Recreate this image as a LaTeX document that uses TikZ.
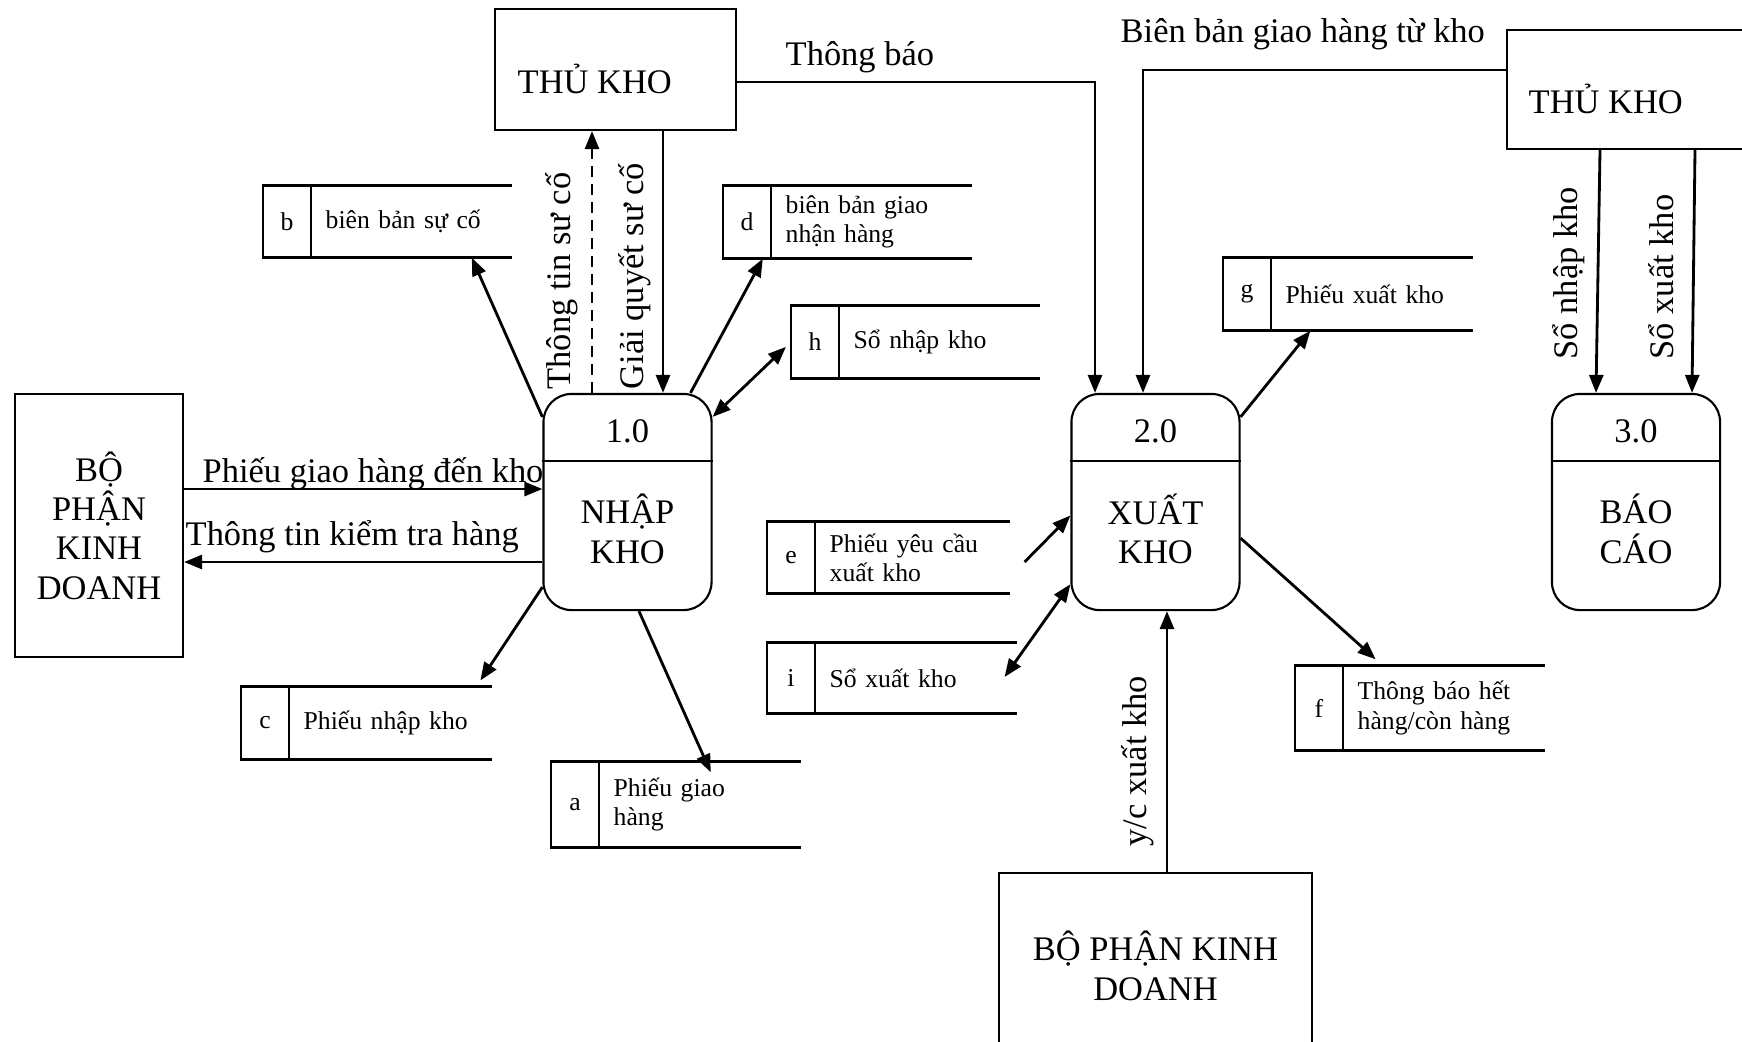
\documentclass[tikz,border=0pt]{standalone}
\usepackage{fontspec}
\setmainfont{Liberation Serif}
\usetikzlibrary{arrows.meta,calc,positioning}
\newcommand\bigtxt{\fontsize{9.8pt}{11.2pt}\selectfont}
\newcommand\smalltxt{\fontsize{7.3pt}{8.3pt}\selectfont}
\begin{document}
\begin{tikzpicture}[x=0.01cm,y=-0.01cm,
  box/.style={draw,line width=0.6pt,inner sep=0},
  process/.style={draw,line width=0.6pt,rounded corners=0.28cm,
    minimum width=1.68cm,minimum height=2.16cm,inner sep=0},
  lbl/.style={font=\bigtxt,inner sep=0},
  lbls/.style={font=\bigtxt,inner sep=0,align=center},
  storebox/.style={minimum width=2.47cm,inner sep=0},
  storeid/.style={font=\smalltxt,inner sep=0},
  storetxt/.style={font=\smalltxt,text width=1.8cm,align=left,inner xsep=0.14cm,inner ysep=0},
  storeline/.style={line width=0.8pt},
  flow/.style={line width=0.8pt,-{Triangle[length=0.18cm,width=0.14cm]}},
  flow2/.style={line width=0.8pt,{Triangle[length=0.18cm,width=0.14cm]}-{Triangle[length=0.18cm,width=0.14cm]}}]
\useasboundingbox (0,0) rectangle (1742,1041);
\clip (0,0) rectangle (1742,1041);
\def\dstore#1(#2)#3#4#5{%
  \node[storebox,anchor=west,#5] (#1) at (#2) {};
  \node[storeid] (#1id) at ($(#1.west)+(24,0)$) {#3};
  \node[storetxt,anchor=west] (#1txt) at ($(#1.west)+(48,0)$) {#4};
  \draw[storeline] (#1.north east) -- (#1.north west) -- (#1.south west) -- (#1.south east);
  \draw[storeline] ($(#1.north west)+(48,0)$) -- ($(#1.south west)+(48,0)$);}
% external entities
\node[box,minimum width=2.41cm,minimum height=1.21cm] (tk1) at (615.5,69.5) {};
\node[lbl,anchor=base west] (tk1txt) at (517,93) {THỦ KHO};
\node[box,minimum width=2.58cm,minimum height=1.19cm] (tk2) at (1636,89.5) {};
\node[lbl,anchor=base west] (tk2txt) at (1528,113) {THỦ KHO};
\node[box,minimum width=1.68cm,minimum height=2.63cm,font=\bigtxt,align=center] (bp1)
  at (99,525.5) {BỘ\\PHẬN\\KINH\\DOANH};
\node[box,minimum width=3.13cm,minimum height=2.07cm] (bp2) at (1155.5,976.5) {};
\node[lbls] (bp2txt) at (1155.5,966) {BỘ PHẬN KINH\\DOANH};
% processes
\node[process] (p1) at (627.5,502) {};
\draw[line width=0.6pt] ($(p1.north west)+(0,68)$) -- ($(p1.north east)+(0,68)$);
\node[lbl] (p1id) at ($(p1.north)+(0,38)$) {1.0};
\node[lbls] (p1txt) at ($(p1.north)+(0,136)$) {NHẬP\\KHO};
\node[process] (p2) at (1155.5,502) {};
\draw[line width=0.6pt] ($(p2.north west)+(0,68)$) -- ($(p2.north east)+(0,68)$);
\node[lbl] (p2id) at ($(p2.north)+(0,38)$) {2.0};
\node[lbls] (p2txt) at ($(p2.north)+(0,136)$) {XUẤT\\KHO};
\node[process] (p3) at (1636,502) {};
\draw[line width=0.6pt] ($(p3.north west)+(0,68)$) -- ($(p3.north east)+(0,68)$);
\node[lbl] (p3id) at ($(p3.north)+(0,38)$) {3.0};
\node[lbls] (p3txt) at ($(p3.north)+(0,136)$) {BÁO\\CÁO};
% data stores
\dstore{b}(263,221.5){b}{biên bản sự cố}{minimum height=0.71cm}
\dstore{d}(723,222){d}{biên bản giao\\nhận hàng}{minimum height=0.72cm}
\dstore{h}(791,342){h}{Sổ nhập kho}{minimum height=0.72cm}
\dstore{c}(241,723){c}{Phiếu nhập kho}{minimum height=0.72cm,minimum width=2.49cm}
\dstore{a}(551,804.5){a}{Phiếu giao\\hàng}{minimum height=0.85cm,minimum width=2.48cm}
\dstore{g}(1223,294){g}{Phiếu xuất kho}{minimum height=0.72cm,minimum width=2.48cm}
\dstore{e}(767,557.5){e}{Phiếu yêu cầu\\xuất kho}{minimum height=0.71cm,minimum width=2.41cm}
\dstore{i}(767,678){i}{Sổ xuất kho}{minimum height=0.70cm,minimum width=2.48cm}
\dstore{f}(1295,708){f}{Thông báo hết\\hàng/còn hàng}{minimum height=0.84cm,minimum width=2.48cm}
% flows of 1.0
\draw[flow] (p1.135) -- ($(b.south west)!0.84!(b.south east)$);
\draw[flow,dash pattern=on 0.11cm off 0.07cm] ($(p1.north)+(-35.5,0)$) -- ($(tk1.south)+(-23.5,0)$);
\draw[flow] ($(tk1.south)+(47.5,0)$) -- ($(p1.north)+(35.5,0)$);
\draw[flow] (p1.60) -- ($(d.south west)!0.16!(d.south east)$);
\draw[flow2,shorten >=0.07cm] (p1.45) -- (h.west);
\draw[flow,shorten >=0.07cm] (p1.225) -- ($(c.north west)!0.94!(c.north east)$);
\draw[flow] (p1.-84) -- ($(a.north west)!0.64!(a.north east)+(0,11)$);
\draw[flow] ($(bp1.east)+(0,-36.5)$) -- ($(p1.west)+(0,-13)$);
\draw[flow] ($(p1.west)+(0,60)$) -- ($(bp1.east)+(0,36.5)$);
% flows of 2.0
\draw[flow] ($(tk1.east)+(0,12.5)$) -| ($(p2.north)+(-60.5,0)$);
\draw[flow] ($(tk2.west)+(0,-19.5)$) -| ($(p2.north)+(-12.5,0)$);
\draw[flow] (p2.45) -- ($(g.south west)!0.35!(g.south east)$);
\draw[flow] ($(e.east)+(15,4.5)$) -- (p2.189);
\draw[flow2] ($(i.east)+(-12,-1)$) -- (p2.224);
\draw[flow,shorten >=0.09cm] (p2.-23) -- ($(f.north west)!0.35!(f.north east)$);
\draw[flow] ($(bp2.north)+(11.5,0)$) -- ($(p2.south)+(11.5,0)$);
% flows of 3.0
\draw[flow] ($(tk2.south)+(-36,0)$) -- ($(p3.north)+(-40,0)$);
\draw[flow] ($(tk2.south)+(59,0)$) -- ($(p3.north)+(56,0)$);
% flow labels
\node[lbl,anchor=base west] (ltb) at (785,65) {Thông báo};
\node[lbl,anchor=base west] (lbb) at (1120,42) {Biên bản giao hàng từ kho};
\node[lbl,anchor=base west] (lpg) at (202,482) {Phiếu giao hàng đến kho};
\node[lbl,anchor=base west] (ltt) at (185,545) {Thông tin kiểm tra hàng};
\node[lbl,rotate=90,anchor=base west] (lts) at (570,390) {Thông tin sư cố};
\node[lbl,rotate=90,anchor=base west] (lgq) at (643,390) {Giải quyết sư cố};
\node[lbl,rotate=90,anchor=base west] (lsn) at (1577,360) {Sổ nhập kho};
\node[lbl,rotate=90,anchor=base west] (lsx) at (1673,360) {Sổ xuất kho};
\node[lbl,rotate=90,anchor=base west] (lyc) at (1146,847) {y/c xuất kho};
\end{tikzpicture}
\end{document}
